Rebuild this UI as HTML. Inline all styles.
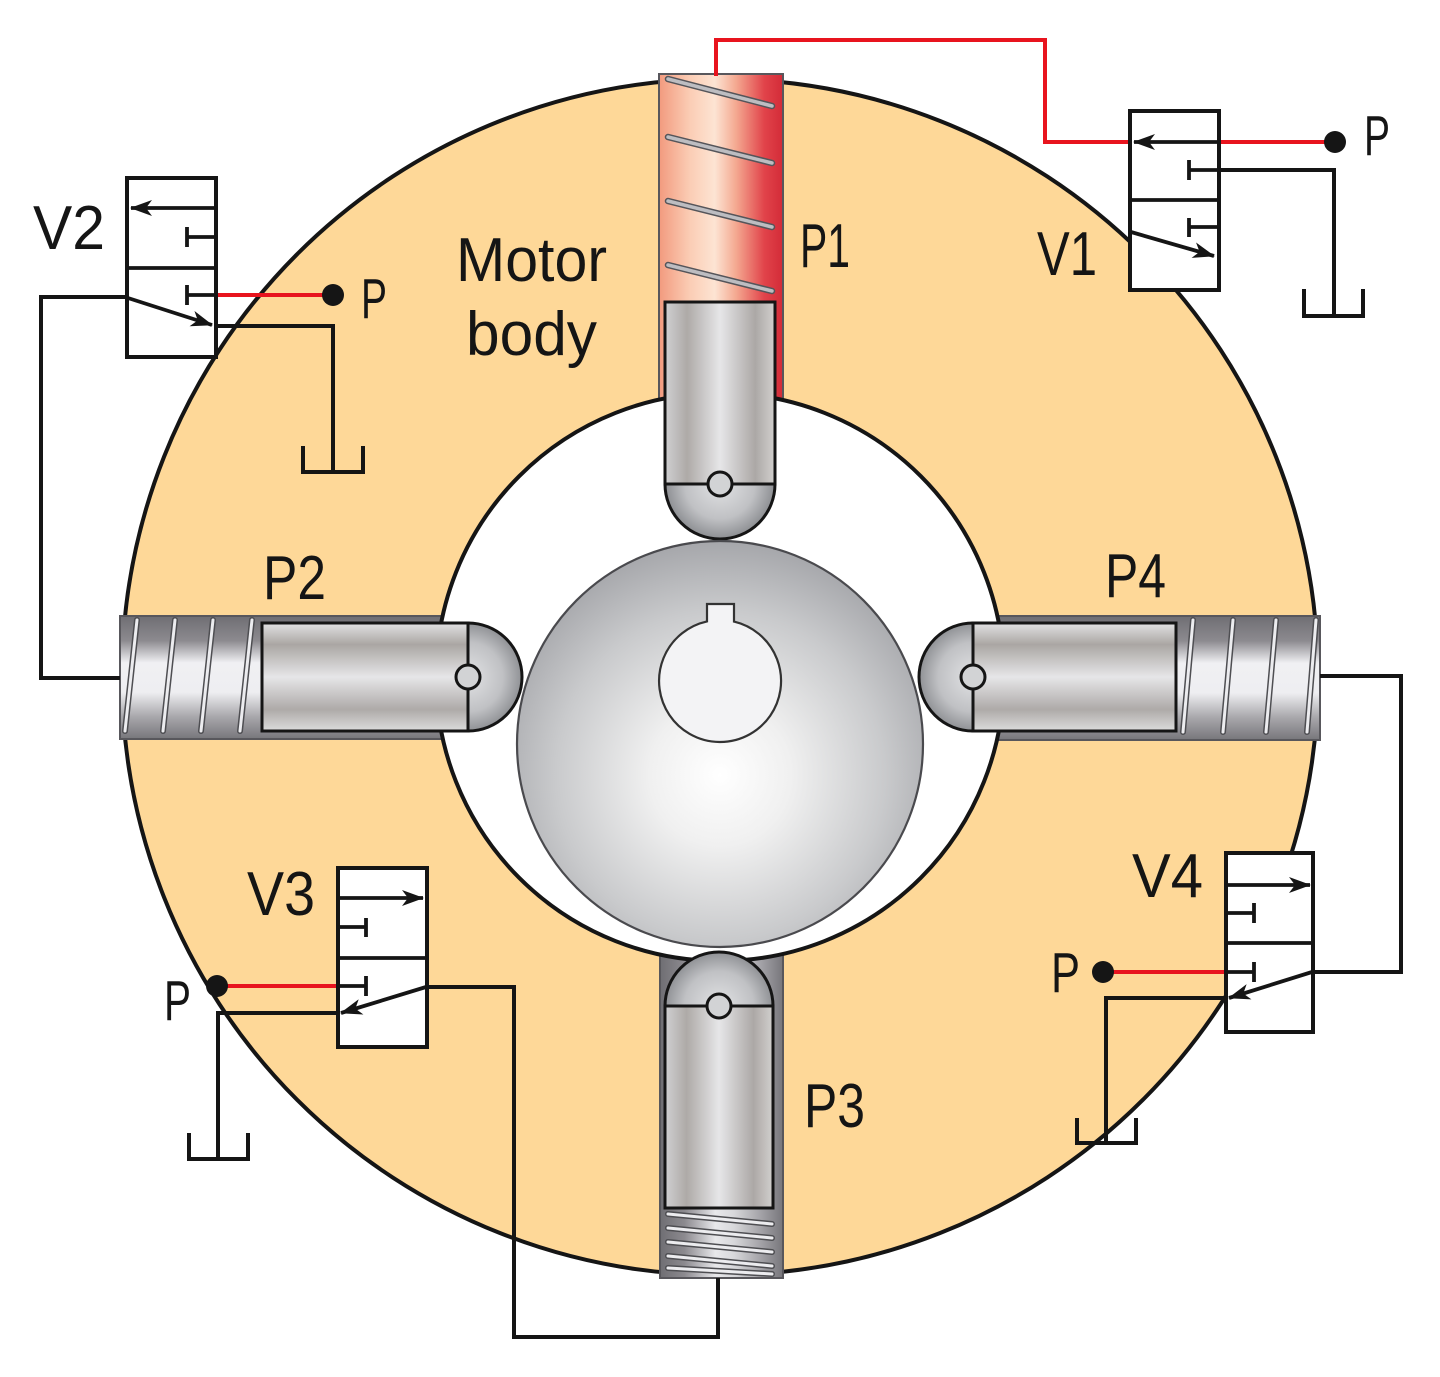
<!DOCTYPE html>
<html><head><meta charset="utf-8"><style>
html,body{margin:0;padding:0;background:#fff;}
svg{display:block;}
text{font-family:"Liberation Sans",sans-serif;fill:#151515;}
</style></head><body>
<svg width="1440" height="1377" viewBox="0 0 1440 1377" xmlns="http://www.w3.org/2000/svg">
<defs>
<linearGradient id="redH" x1="0" y1="0" x2="1" y2="0">
<stop offset="0" stop-color="#f29a7e"/><stop offset="0.25" stop-color="#fbcdb5"/><stop offset="0.45" stop-color="#fde4d3"/><stop offset="0.62" stop-color="#f4a991"/><stop offset="0.85" stop-color="#e1434a"/><stop offset="1" stop-color="#d32b38"/>
</linearGradient>
<linearGradient id="pistV" x1="0" y1="0" x2="1" y2="0">
<stop offset="0" stop-color="#d0d0d2"/><stop offset="0.2" stop-color="#aeaaa7"/><stop offset="0.5" stop-color="#e6e6e8"/><stop offset="0.82" stop-color="#aca8a6"/><stop offset="1" stop-color="#d2d0ce"/>
</linearGradient>
<linearGradient id="pistH" x1="0" y1="0" x2="0" y2="1">
<stop offset="0" stop-color="#e2e2e3"/><stop offset="0.2" stop-color="#aaa6a3"/><stop offset="0.5" stop-color="#e6e6e8"/><stop offset="0.8" stop-color="#aeaaa8"/><stop offset="1" stop-color="#dcdcdc"/>
</linearGradient>
<linearGradient id="housH" x1="0" y1="0" x2="0" y2="1">
<stop offset="0" stop-color="#6f6e73"/><stop offset="0.2" stop-color="#8c8a8f"/><stop offset="0.38" stop-color="#f0f0f3"/><stop offset="0.62" stop-color="#eeeef1"/><stop offset="0.82" stop-color="#a8a7ab"/><stop offset="1" stop-color="#77767b"/>
</linearGradient>
<linearGradient id="housV" x1="0" y1="0" x2="1" y2="0">
<stop offset="0" stop-color="#6f6e73"/><stop offset="0.2" stop-color="#8c8a8f"/><stop offset="0.45" stop-color="#e8e8eb"/><stop offset="0.6" stop-color="#d8d8db"/><stop offset="0.85" stop-color="#9c9ba0"/><stop offset="1" stop-color="#77767b"/>
</linearGradient>
<radialGradient id="ball" cx="720" cy="775" r="235" gradientUnits="userSpaceOnUse">
<stop offset="0" stop-color="#ffffff"/><stop offset="0.3" stop-color="#f0f0f0"/><stop offset="0.7" stop-color="#c9cacc"/><stop offset="1" stop-color="#a5a6aa"/>
</radialGradient>
<radialGradient id="cap1" cx="720" cy="484" r="58" gradientUnits="userSpaceOnUse"><stop offset="0" stop-color="#e2e3e5"/><stop offset="0.6" stop-color="#c0c1c4"/><stop offset="1" stop-color="#85878b"/></radialGradient>
<radialGradient id="cap3" cx="719" cy="1006" r="58" gradientUnits="userSpaceOnUse"><stop offset="0" stop-color="#e2e3e5"/><stop offset="0.6" stop-color="#c0c1c4"/><stop offset="1" stop-color="#85878b"/></radialGradient>
<radialGradient id="cap2" cx="468" cy="677" r="58" gradientUnits="userSpaceOnUse"><stop offset="0" stop-color="#e2e3e5"/><stop offset="0.6" stop-color="#c0c1c4"/><stop offset="1" stop-color="#85878b"/></radialGradient>
<radialGradient id="cap4" cx="973" cy="677" r="58" gradientUnits="userSpaceOnUse"><stop offset="0" stop-color="#e2e3e5"/><stop offset="0.6" stop-color="#c0c1c4"/><stop offset="1" stop-color="#85878b"/></radialGradient>
<marker id="ah" viewBox="0 0 22 16" refX="21" refY="8" markerWidth="22" markerHeight="16" markerUnits="userSpaceOnUse" orient="auto">
<path d="M0,0 L22,8 L0,16 L6,8 Z" fill="#151515"/>
</marker>
</defs>

<circle cx="720" cy="677" r="598" fill="#fed898" stroke="#151515" stroke-width="4"/>

<rect x="659" y="74" width="124" height="330" fill="url(#redH)" stroke="#58575c" stroke-width="2"/>
<rect x="660" y="950" width="123" height="328" fill="url(#housV)" stroke="#58575c" stroke-width="2"/>
<rect x="120" y="616" width="330" height="123" fill="url(#housH)" stroke="#58575c" stroke-width="2"/>
<rect x="992" y="616" width="328" height="124" fill="url(#housH)" stroke="#58575c" stroke-width="2"/>

<circle cx="720" cy="677" r="284" fill="#fff" stroke="#151515" stroke-width="4"/>

<g stroke-linecap="round">
<g stroke="#55555a" stroke-width="6.5">
<line x1="668" y1="79" x2="772" y2="106"/><line x1="668" y1="137" x2="772" y2="163"/><line x1="668" y1="201" x2="772" y2="227"/><line x1="668" y1="265" x2="772" y2="291"/>
</g>
<g stroke="#bdbdc1" stroke-width="3.5">
<line x1="668" y1="79" x2="772" y2="106"/><line x1="668" y1="137" x2="772" y2="163"/><line x1="668" y1="201" x2="772" y2="227"/><line x1="668" y1="265" x2="772" y2="291"/>
</g>
<g stroke="#4e4e52" stroke-width="6">
<line x1="137" y1="620" x2="125" y2="731"/><line x1="175" y1="620" x2="163" y2="731"/><line x1="213" y1="620" x2="201" y2="731"/><line x1="252" y1="620" x2="240" y2="731"/>
<line x1="1193" y1="620" x2="1183" y2="732"/><line x1="1233" y1="620" x2="1223" y2="732"/><line x1="1276" y1="620" x2="1266" y2="732"/><line x1="1316" y1="620" x2="1307" y2="732"/>
<line x1="668" y1="1214" x2="772" y2="1224"/><line x1="668" y1="1228" x2="772" y2="1238"/><line x1="668" y1="1242" x2="772" y2="1252"/><line x1="668" y1="1256" x2="772" y2="1266"/><line x1="668" y1="1268" x2="772" y2="1274"/>
</g>
<g stroke="#ececef" stroke-width="3">
<line x1="137" y1="620" x2="125" y2="731"/><line x1="175" y1="620" x2="163" y2="731"/><line x1="213" y1="620" x2="201" y2="731"/><line x1="252" y1="620" x2="240" y2="731"/>
<line x1="1193" y1="620" x2="1183" y2="732"/><line x1="1233" y1="620" x2="1223" y2="732"/><line x1="1276" y1="620" x2="1266" y2="732"/><line x1="1316" y1="620" x2="1307" y2="732"/>
<line x1="668" y1="1214" x2="772" y2="1224"/><line x1="668" y1="1228" x2="772" y2="1238"/><line x1="668" y1="1242" x2="772" y2="1252"/><line x1="668" y1="1256" x2="772" y2="1266"/><line x1="668" y1="1268" x2="772" y2="1274"/>
</g>
</g>

<g stroke="#151515" stroke-width="3">
<rect x="665" y="302" width="110" height="182" fill="url(#pistV)"/>
<path d="M665,484 A55,55 0 0 0 775,484 Z" fill="url(#cap1)"/>
<circle cx="720" cy="484" r="12" fill="#d2d3d5"/>

<rect x="665" y="1006" width="108" height="202" fill="url(#pistV)"/>
<path d="M665,1006 A54,54 0 0 1 773,1006 Z" fill="url(#cap3)"/>
<circle cx="719" cy="1006" r="12" fill="#d2d3d5"/>

<rect x="262" y="623" width="206" height="108" fill="url(#pistH)"/>
<path d="M468,623 A54,54 0 0 1 468,731 Z" fill="url(#cap2)"/>
<circle cx="468" cy="677" r="12" fill="#d2d3d5"/>

<rect x="973" y="623" width="203" height="108" fill="url(#pistH)"/>
<path d="M973,623 A54,54 0 0 0 973,731 Z" fill="url(#cap4)"/>
<circle cx="973" cy="677" r="12" fill="#d2d3d5"/>
</g>

<circle cx="720" cy="744" r="203" fill="url(#ball)" stroke="#4a4a4e" stroke-width="2.2"/>
<path d="M707,621.4 L707,604 L734,604 L734,621.6 A61,61 0 1 1 707,621.4 Z" fill="#f3f3f5" stroke="#333" stroke-width="2.2"/>

<g fill="none" stroke="#151515" stroke-width="4" stroke-linejoin="miter">
<polyline points="1219,170 1334,170 1334,316"/>
<polyline points="1304,289 1304,316 1363,316 1363,289"/>
<polyline points="127,297 41,297 41,678 120,678"/>
<polyline points="216,326 333,326 333,472"/>
<polyline points="303,446 303,472 363,472 363,446"/>
<polyline points="338,1013 218,1013 218,1159"/>
<polyline points="189,1133 189,1159 248,1159 248,1133"/>
<polyline points="427,987 514,987 514,1337 718,1337 718,1278"/>
<polyline points="1226,998 1106,998 1106,1143"/>
<polyline points="1077,1118 1077,1143 1136,1143 1136,1118"/>
<polyline points="1313,972 1401,972 1401,676 1320,676"/>
</g>

<g fill="none" stroke="#e8141e" stroke-width="4">
<polyline points="716,76 716,40 1045,40 1045,142 1130,142"/>
<line x1="1219" y1="142" x2="1335" y2="142"/>
<line x1="216" y1="295" x2="333" y2="295"/>
<line x1="217" y1="986" x2="338" y2="986"/>
<line x1="1103" y1="972" x2="1226" y2="972"/>
</g>
<g fill="#151515">
<circle cx="1335" cy="142" r="11"/>
<circle cx="333" cy="295" r="11"/>
<circle cx="217" cy="986" r="11"/>
<circle cx="1103" cy="972" r="11"/>
</g>

<g fill="#fff" stroke="#151515" stroke-width="4">
<rect x="1130" y="111" width="89" height="179"/>
<rect x="127" y="178" width="89" height="179"/>
<rect x="338" y="868" width="89" height="179"/>
<rect x="1226" y="853" width="87" height="179"/>
</g>
<g fill="none" stroke="#151515" stroke-width="3.8">
<line x1="1130" y1="200" x2="1219" y2="200"/>
<line x1="1217" y1="142" x2="1134" y2="142" marker-end="url(#ah)"/>
<polyline points="1219,170 1189,170"/><line x1="1189" y1="160" x2="1189" y2="180"/>
<polyline points="1219,227 1189,227"/><line x1="1189" y1="218" x2="1189" y2="237"/>
<line x1="1131" y1="232" x2="1214" y2="256" marker-end="url(#ah)"/>
<line x1="127" y1="268" x2="216" y2="268"/>
<line x1="214" y1="208" x2="131" y2="208" marker-end="url(#ah)"/>
<polyline points="216,237 187,237"/><line x1="187" y1="227" x2="187" y2="247"/>
<polyline points="216,295 187,295"/><line x1="187" y1="285" x2="187" y2="305"/>
<line x1="128" y1="298" x2="212" y2="325" marker-end="url(#ah)"/>
<line x1="338" y1="958" x2="427" y2="958"/>
<line x1="340" y1="898" x2="423" y2="898" marker-end="url(#ah)"/>
<polyline points="338,927 366,927"/><line x1="366" y1="918" x2="366" y2="937"/>
<polyline points="338,986 366,986"/><line x1="366" y1="976" x2="366" y2="996"/>
<line x1="426" y1="987" x2="341" y2="1013" marker-end="url(#ah)"/>
<line x1="1226" y1="943" x2="1313" y2="943"/>
<line x1="1228" y1="885" x2="1310" y2="885" marker-end="url(#ah)"/>
<polyline points="1226,913 1254,913"/><line x1="1254" y1="903" x2="1254" y2="923"/>
<polyline points="1226,972 1254,972"/><line x1="1254" y1="962" x2="1254" y2="982"/>
<line x1="1312" y1="972" x2="1229" y2="998" marker-end="url(#ah)"/>
</g>

<g font-size="62">
<text x="800" y="267" textLength="50" lengthAdjust="spacingAndGlyphs">P1</text>
<text x="1037" y="275" textLength="60" lengthAdjust="spacingAndGlyphs">V1</text>
<text x="33" y="249" textLength="72" lengthAdjust="spacingAndGlyphs">V2</text>
<text x="456" y="281" textLength="151" lengthAdjust="spacingAndGlyphs">Motor</text>
<text x="466" y="355" textLength="131" lengthAdjust="spacingAndGlyphs">body</text>
<text x="263" y="599" textLength="63" lengthAdjust="spacingAndGlyphs">P2</text>
<text x="1105" y="597" textLength="61" lengthAdjust="spacingAndGlyphs">P4</text>
<text x="247" y="915" textLength="68" lengthAdjust="spacingAndGlyphs">V3</text>
<text x="1132" y="897" textLength="71" lengthAdjust="spacingAndGlyphs">V4</text>
<text x="804" y="1127" textLength="61" lengthAdjust="spacingAndGlyphs">P3</text>
</g>
<g font-size="57">
<text x="1364" y="155" textLength="26" lengthAdjust="spacingAndGlyphs">P</text>
<text x="361" y="318" textLength="26" lengthAdjust="spacingAndGlyphs">P</text>
<text x="164" y="1020" textLength="27" lengthAdjust="spacingAndGlyphs">P</text>
<text x="1051" y="992" textLength="29" lengthAdjust="spacingAndGlyphs">P</text>
</g>
</svg>
</body></html>
